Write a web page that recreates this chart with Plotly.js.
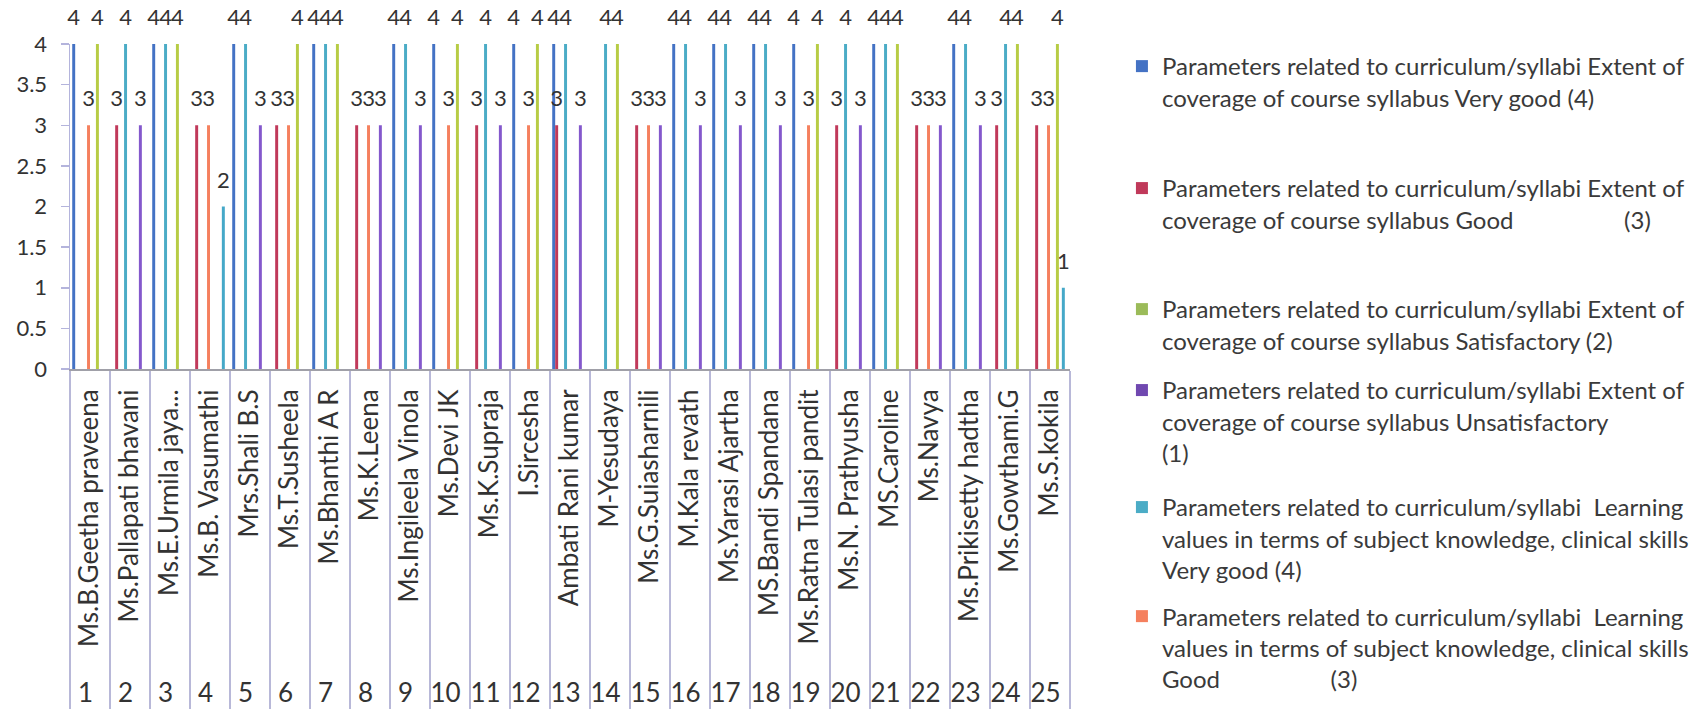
<!DOCTYPE html>
<html>
<head>
<meta charset="utf-8">
<script src="https://cdn.plot.ly/plotly-3.0.1.min.js"></script>
<style>
  html, body { margin: 0; padding: 0; background: #ffffff; }
  #chart { width: 1703px; height: 717px; }
</style>
</head>
<body>
<div id="chart"></div>
<script>
// ---------- data ----------
const serialNumbers = ['1','2','3','4','5','6','7','8','9','10','11','12','13','14','15','16','17','18','19','20','21','22','23','24','25'];
const studentNames = [
  'Ms.B.Geetha praveena', 'Ms.Pallapati bhavani', 'Ms.E.Urmila jaya...', 'Ms.B. Vasumathi', 'Mrs.Shali B.S',
  'Ms.T.Susheela', 'Ms.Bhanthi A R', 'Ms.K.Leena', 'Ms.Ingileela Vinola', 'Ms.Devi JK',
  'Ms.K.Supraja', 'I.Sircesha', 'Ambati Rani kumar', 'M-Yesudaya', 'Ms.G.Suiasharnili',
  'M.Kala revath', 'Ms.Yarasi Ajartha', 'MS.Bandi Spandana', 'Ms.Ratna Tulasi pandit', 'Ms.N. Prathyusha',
  'MS.Caroline', 'Ms.Navya', 'Ms.Prikisetty hadtha', 'Ms.Gowthami.G', 'Ms.S.kokila'
];

const coverageVeryGood     = [4,null,4,null,4,null,4,null,4,4,null,4,4,null,null,4,4,4,4,null,4,null,4,null,null];
const coverageGood         = [null,3,null,3,null,3,null,3,null,null,3,null,3,null,3,null,null,null,null,3,null,3,null,3,3];
const coverageSatisfactory = [null,null,null,null,null,null,null,null,null,null,null,null,null,null,null,null,null,null,null,null,null,null,null,null,null];
const coverageUnsatisfactory = [null,null,null,null,null,null,null,null,null,null,null,null,null,null,null,null,null,null,null,null,null,null,null,null,null];
const learningVeryGood     = [null,4,4,null,4,null,4,null,4,null,4,null,4,4,null,4,4,4,null,4,4,null,4,4,null];
const learningGood         = [3,null,null,3,null,3,null,3,null,3,null,3,null,null,3,null,null,null,3,null,null,3,null,null,3];
const learningSatisfactory = [null,null,null,null,null,null,null,null,null,null,null,null,null,null,null,null,null,null,null,null,null,null,null,null,null];
const learningUnsatisfactory = [null,null,null,null,null,null,null,null,null,null,null,null,null,null,null,null,null,null,null,null,null,null,null,null,null];
const thirdVeryGood        = [4,null,4,null,null,4,4,null,null,4,null,4,null,4,null,null,null,null,4,null,4,null,null,4,4];
const thirdGood            = [null,3,null,null,3,null,null,3,3,null,3,null,3,null,3,3,3,3,null,3,null,3,3,null,null];
const thirdSatisfactory    = [null,null,null,2,null,null,null,null,null,null,null,null,null,null,null,null,null,null,null,null,null,null,null,null,1];
const thirdUnsatisfactory  = [null,null,null,null,null,null,null,null,null,null,null,null,null,null,null,null,null,null,null,null,null,null,null,null,null];

const NB = '\u00a0';
const seriesNames = [
  'Parameters related to curriculum/syllabi Extent of<br>coverage of course syllabus Very good (4)',
  'Parameters related to curriculum/syllabi Extent of<br>coverage of course syllabus Good' + NB.repeat(18) + '(3)',
  'Parameters related to curriculum/syllabi Extent of<br>coverage of course syllabus Satisfactory (2)',
  'Parameters related to curriculum/syllabi Extent of<br>coverage of course syllabus Unsatisfactory<br>(1)',
  'Parameters related to curriculum/syllabi' + NB + ' Learning<br>values in terms of subject knowledge, clinical skills<br>Very good (4)',
  'Parameters related to curriculum/syllabi' + NB + ' Learning<br>values in terms of subject knowledge, clinical skills<br>Good' + NB.repeat(18) + '(3)',
  'Learning values Satisfactory (2)',
  'Learning values Unsatisfactory (1)',
  'Third parameter Very good (4)',
  'Third parameter Good (3)',
  'Third parameter Satisfactory (2)',
  'Third parameter Unsatisfactory (1)'
];
const seriesValues = [
  coverageVeryGood, coverageGood, coverageSatisfactory, coverageUnsatisfactory,
  learningVeryGood, learningGood, learningSatisfactory, learningUnsatisfactory,
  thirdVeryGood, thirdGood, thirdSatisfactory, thirdUnsatisfactory
];
const seriesColors = [
  '#4472C4', '#C0395A', '#9BBB59', '#7048B0', '#4BACC6', '#F5805E',
  '#4472C4', '#C0395A', '#B7CC45', '#8458CC', '#45A8C8', '#F5805E'
];
const legendIds = ['legend','legend2','legend3','legend4','legend5','legend6'];
const legendTops = [0.9386, 0.7685, 0.5997, 0.4868, 0.3236, 0.1715];

// ---------- chart ----------
const FONT = 'Lato, "Open Sans", sans-serif';
const pad = '<span style="font-size:90px">' + NB + '</span>';
// leading spaces only lengthen the rotated name labels, opening room above the serial numbers
const nameLabels = studentNames.map(n => NB.repeat(2) + n);

const traces = seriesValues.map((vals, i) => ({
  type: 'bar',
  name: seriesNames[i],
  x: [serialNumbers, nameLabels],
  y: vals,
  marker: { color: seriesColors[i], line: { width: 0 } },
  texttemplate: pad + '%{y}' + pad,
  textposition: 'outside',
  cliponaxis: false,
  constraintext: 'none',
  textfont: { family: FONT, size: 22, color: '#333333' },
  showlegend: i < 6,
  legend: i < 6 ? legendIds[i] : 'legend',
  hoverinfo: 'skip'
}));

function legendAt(yTop) {
  return {
    xref: 'container', yref: 'container',
    x: 0.6588, xanchor: 'left', y: yTop, yanchor: 'top',
    font: { family: FONT, size: 24, color: '#3a3a3a' },
    valign: 'top', bgcolor: 'rgba(0,0,0,0)', borderwidth: 0,
    itemwidth: 30, tracegroupgap: 0, itemclick: false, itemdoubleclick: false
  };
}

const layout = {
  width: 1703, height: 717,
  margin: { l: 70, r: 633, t: 44, b: 348, pad: 0 },
  paper_bgcolor: '#ffffff', plot_bgcolor: '#ffffff',
  font: { family: FONT, color: '#333333' },
  barmode: 'group', bargap: 0.111, bargroupgap: 0,
  showlegend: true,
  xaxis: {
    type: 'multicategory', automargin: false,
    showline: true, linecolor: '#A0A0A8', linewidth: 2,
    ticks: '', tickangle: -90,
    tickfont: { family: FONT, size: 26, color: '#333333' },
    showdividers: true, dividercolor: '#B8B8D8', dividerwidth: 1.5,
    showgrid: false, zeroline: false,
    ticklabelstandoff: 8
  },
  yaxis: {
    range: [0, 4], dtick: 0.5, tick0: 0, automargin: false,
    showline: true, linecolor: '#B4B4DC', linewidth: 1.5,
    ticks: 'outside', ticklen: 8, tickcolor: '#B4B4DC', tickwidth: 1.5,
    tickfont: { family: FONT, size: 22, color: '#333333' },
    ticklabelstandoff: 9,
    showgrid: false, zeroline: false
  }
};
legendIds.forEach((id, i) => { layout[id] = legendAt(legendTops[i]); });

Plotly.newPlot('chart', traces, layout, { displayModeBar: false, staticPlot: true });
</script>
</body>
</html>
